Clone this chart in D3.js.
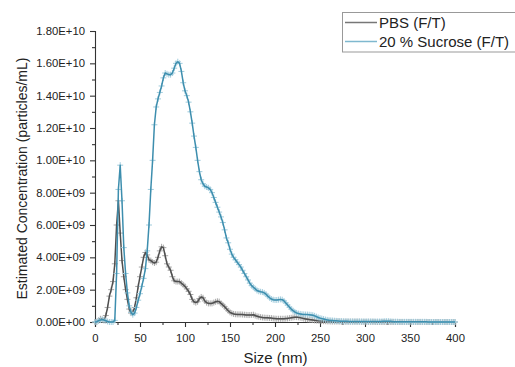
<!DOCTYPE html>
<html>
<head>
<meta charset="utf-8">
<script src="https://cdn.jsdelivr.net/npm/d3@7"></script>
<style>
  body { margin: 0; background: #fff; }
  svg { display: block; font-family: "Liberation Sans", Arial, sans-serif; }
</style>
</head>
<body>
<div id="chart"></div>
<script>
// size bins (nm), 2 nm apart
const sizes = d3.range(0, 402, 2);

// concentrations in units of 1E9 particles/mL, one value per bin
const pbs = [
  0, 0, 0.1, 0.2, 0.15, 0.1, 0.4, 0.9, 1.6, 2.0,
  2.5, 3.6, 6.0, 7.5, 5.5, 3.8, 2.8, 2.0, 1.4, 0.8,
  0.55, 0.6, 0.9, 1.5, 2.2, 2.8, 3.4, 4.0, 4.3, 4.15,
  3.85, 3.8, 3.7, 3.65, 3.7, 4.0, 4.4, 4.65, 4.6, 4.1,
  3.6, 3.4, 3.2, 2.8, 2.55, 2.5, 2.5, 2.5, 2.4, 2.3,
  2.2, 2.05, 1.9, 1.7, 1.4, 1.25, 1.2, 1.25, 1.45, 1.55,
  1.5, 1.3, 1.2, 1.15, 1.15, 1.15, 1.2, 1.25, 1.28, 1.26,
  1.15, 1.05, 0.95, 0.82, 0.7, 0.6, 0.54, 0.5, 0.48, 0.47,
  0.47, 0.47, 0.46, 0.45, 0.44, 0.43, 0.43, 0.44, 0.45, 0.4,
  0.35, 0.33, 0.3, 0.28, 0.27, 0.26, 0.26, 0.25, 0.24, 0.22,
  0.21, 0.2, 0.2, 0.2, 0.2, 0.2, 0.21, 0.22, 0.24, 0.26,
  0.28, 0.3, 0.3, 0.29, 0.27, 0.24, 0.21, 0.19, 0.17, 0.15,
  0.14, 0.12, 0.1, 0.09, 0.08, 0.07, 0.06, 0.05, 0.05, 0.04,
  0.04, 0.03, 0.03, 0.03, 0.03, 0.03, 0.03, 0.02, 0.02, 0.02,
  0.02, 0.02, 0.02, 0.02, 0.02, 0.02, 0.02, 0.02, 0.01, 0.01,
  0.01, 0.01, 0.01, 0.01, 0.01, 0.01, 0, 0, 0, 0,
  0, 0, 0, 0, 0, 0, 0, 0, 0, 0,
  0, 0, 0, 0, 0, 0, 0, 0, 0, 0,
  0, 0, 0, 0, 0, 0, 0, 0, 0, 0,
  0, 0, 0, 0, 0, 0, 0, 0, 0, 0,
  0
];

const sucrose = [
  0, 0.02, 0.08, 0.12, 0.15, 0.12, 0.08, 0.03, 0, 0,
  0, 0.1, 3.0, 8.2, 9.7, 7.5, 4.6, 3.0, 1.8, 1.0,
  0.6, 0.45, 0.55, 0.9, 1.35, 1.75, 2.2, 2.7, 3.3, 4.4,
  6.0, 8.2, 10.0, 12.2, 13.3, 13.8, 14.2, 14.6, 15.1, 15.4,
  15.35, 15.3, 15.3, 15.4, 15.7, 16.0, 16.1, 16.0, 15.5, 14.8,
  14.3, 14.0, 13.6, 13.0, 12.3, 11.5, 10.8, 10.0, 9.3, 8.8,
  8.55, 8.4, 8.35, 8.3, 8.2, 8.0, 7.7, 7.4, 7.1, 6.8,
  6.5, 6.15, 5.7, 5.2, 4.9, 4.5, 4.2, 4.0, 3.85, 3.7,
  3.55, 3.4, 3.2, 3.0, 2.8, 2.6, 2.4, 2.25, 2.15, 2.05,
  1.95, 1.9, 1.87, 1.85, 1.8, 1.72, 1.6, 1.5, 1.42, 1.38,
  1.36, 1.36, 1.38, 1.4, 1.38, 1.3, 1.18, 1.05, 0.92, 0.8,
  0.7, 0.62, 0.56, 0.52, 0.5, 0.48, 0.47, 0.46, 0.46, 0.45,
  0.44, 0.42, 0.38, 0.33, 0.28, 0.24, 0.21, 0.18, 0.15, 0.13,
  0.11, 0.1, 0.09, 0.08, 0.07, 0.06, 0.05, 0.05, 0.04, 0.04,
  0.04, 0.03, 0.03, 0.03, 0.03, 0.03, 0.03, 0.03, 0.03, 0.03,
  0.03, 0.03, 0.03, 0.03, 0.03, 0.03, 0.03, 0.03, 0.03, 0.03,
  0.04, 0.05, 0.05, 0.05, 0.04, 0.03, 0.02, 0.02, 0.02, 0.01,
  0.01, 0.01, 0.01, 0.01, 0.01, 0.01, 0.01, 0.01, 0.01, 0.01,
  0.01, 0.01, 0.01, 0.01, 0.01, 0, 0, 0, 0, 0,
  0, 0, 0, 0, 0, 0, 0, 0, 0, 0,
  0
];

const seriesNames = ["PBS (F/T)", "20 % Sucrose (F/T)"];
const lineColors = ["#4f4f4f", "#3d8eae"];
const markColors = ["#a8a8a8", "#9fcbdc"];

const yTicks = d3.range(0, 18.01e9, 2e9);
const yMinor = d3.range(1e9, 18e9, 2e9);
const xTicks = d3.range(0, 401, 50);
const xMinor = d3.range(25, 400, 50);

const W = 515, H = 367;
const x = d3.scaleLinear().domain([0, 400]).range([95, 455]);
const y = d3.scaleLinear().domain([0, 1.8e10]).range([322, 31]);

const svg = d3.select("#chart").append("svg")
  .attr("width", W).attr("height", H);

// "1.80E+10" style labels
function sci(v) {
  const s = d3.format(".2e")(v);
  const [m, e] = s.split("e");
  const sign = e[0];
  const digits = e.slice(1).padStart(2, "0");
  return m + "E" + sign + digits;
}

const axisColor = "#333";

// y axis
svg.append("g")
  .attr("transform", `translate(${x(0)},0)`)
  .call(d3.axisLeft(y).tickValues(yTicks).tickFormat(sci).tickSizeOuter(0).tickSize(5).tickPadding(5));
svg.append("g")
  .attr("transform", `translate(${x(0)},0)`)
  .call(d3.axisLeft(y).tickValues(yMinor).tickFormat("").tickSizeOuter(0).tickSize(3))
  .call(g => g.select(".domain").remove());

// x axis
svg.append("g")
  .attr("transform", `translate(0,${y(0)})`)
  .call(d3.axisBottom(x).tickValues(xTicks).tickSizeOuter(0).tickSize(5).tickPadding(7));
svg.append("g")
  .attr("transform", `translate(0,${y(0)})`)
  .call(d3.axisBottom(x).tickValues(xMinor).tickFormat("").tickSizeOuter(0).tickSize(3))
  .call(g => g.select(".domain").remove());

svg.selectAll(".domain, .tick line").attr("stroke", axisColor).attr("stroke-width", 1.1);
svg.selectAll(".tick text")
  .attr("fill", "#222")
  .style("font-size", "11.3px")
  .style("font-family", "'Liberation Sans', Arial, sans-serif");

// series
const data = [pbs, sucrose];
const line = d3.line()
  .x((d, i) => x(sizes[i]))
  .y(d => y(d * 1e9));

data.forEach((vals, k) => {
  const g = svg.append("g");
  g.selectAll("path.mk")
    .data(vals)
    .join("path")
    .attr("class", "mk")
    .attr("transform", (d, i) => `translate(${x(sizes[i])},${y(d * 1e9)})`)
    .attr("d", "M-3,0H3M0,-3V3")
    .attr("stroke", markColors[k])
    .attr("stroke-width", 1);
  g.append("path")
    .datum(vals)
    .attr("d", line)
    .attr("fill", "none")
    .attr("stroke", lineColors[k])
    .attr("stroke-width", 1.5)
    .attr("stroke-linejoin", "round");
});

// axis titles
svg.append("text")
  .attr("transform", `translate(27,${(y(0) + y(1.8e10)) / 2 + 2}) rotate(-90)`)
  .attr("text-anchor", "middle")
  .style("font-size", "14px")
  .attr("fill", "#222")
  .text("Estimated Concentration (particles/mL)");

svg.append("text")
  .attr("x", 275.5)
  .attr("y", 363)
  .attr("text-anchor", "middle")
  .style("font-size", "15px")
  .attr("fill", "#222")
  .text("Size (nm)");

// legend
const leg = svg.append("g");
leg.append("rect")
  .attr("x", 342.5).attr("y", 12.5)
  .attr("width", 200).attr("height", 39.5)
  .attr("fill", "#fff")
  .attr("stroke", "#999")
  .attr("stroke-width", 1);
seriesNames.forEach((name, k) => {
  const ly = 22.5 + k * 19;
  leg.append("line")
    .attr("x1", 345).attr("x2", 377)
    .attr("y1", ly).attr("y2", ly)
    .attr("stroke", k === 0 ? "#777" : "#7fb8cf")
    .attr("stroke-width", 1.5);
  leg.append("text")
    .attr("x", 379).attr("y", ly + 5)
    .style("font-size", "15px")
    .attr("fill", "#222")
    .text(name);
});
</script>
</body>
</html>
